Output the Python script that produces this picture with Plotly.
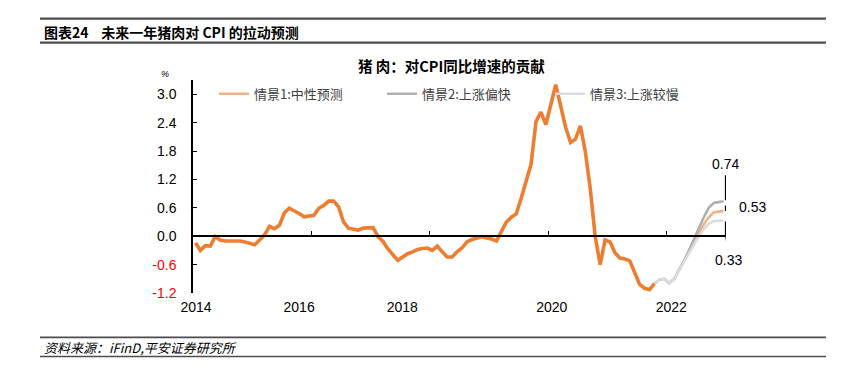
import plotly.graph_objects as go

# ---------------- data ----------------
actual = [
    -0.14, -0.30, -0.20, -0.21, -0.01, -0.08, -0.10, -0.10, -0.10, -0.10,
    -0.12, -0.15, -0.18, -0.08, 0.03, 0.21, 0.16, 0.23, 0.49, 0.59,
    0.54, 0.48, 0.41, 0.42, 0.44, 0.59, 0.65, 0.74, 0.74, 0.62,
    0.30, 0.17, 0.15, 0.13, 0.17, 0.18, 0.18, -0.01, -0.11, -0.27,
    -0.40, -0.51, -0.44, -0.37, -0.33, -0.28, -0.26, -0.25, -0.30, -0.21,
    -0.33, -0.44, -0.44, -0.33, -0.25, -0.12, -0.07, -0.03, -0.01, -0.04,
    -0.06, -0.10, 0.10, 0.30, 0.40, 0.47, 0.80, 1.15, 1.52, 2.42,
    2.62, 2.36, 2.78, 3.20, 2.75, 2.30, 1.98, 2.05, 2.33, 1.78,
    1.00, -0.01, -0.60, -0.08, -0.12, -0.35, -0.46, -0.48, -0.52, -0.78,
    -1.02, -1.10, -1.13, -1.00,
]
# forecasts start at the last actual month (index 93) and run to index 107
scen1 = [-1.00, -0.92, -0.90, -0.99, -0.90, -0.72, -0.52, -0.32, -0.12, 0.05, 0.25, 0.40, 0.50, 0.52, 0.53]
scen2 = [-1.00, -0.92, -0.90, -0.99, -0.90, -0.72, -0.52, -0.30, -0.06, 0.16, 0.40, 0.60, 0.70, 0.72, 0.74]
scen3 = [-1.00, -0.92, -0.90, -0.99, -0.90, -0.72, -0.52, -0.34, -0.15, 0.00, 0.15, 0.26, 0.32, 0.33, 0.33]
scen_names = ["情景1:中性预测", "情景2:上涨偏快", "情景3:上涨较慢"]
year_labels = ["2014", "2016", "2018", "2020", "2022"]
y_ticks = [-1.2, -0.6, 0.0, 0.6, 1.2, 1.8, 2.4, 3.0]

# ---------------- layout constants ----------------
W, H = 866, 383
PX0, PX1 = 193, 726
PY0, PY1 = 80.2, 292.7          # top / bottom of plot area in pixels
PW, PH = PX1 - PX0, PY1 - PY0
X_RANGE = [-0.5, 107.5]
Y_RANGE = [-1.2, 3.3]
label_pos = [0.1, 21.0, 41.9, 72.2, 96.4]
minor_tick_pos = [23.5, 47.5, 71.5, 95.5]

FONT = "Liberation Sans, Arial, Noto Sans CJK SC"
CJK = "Noto Sans CJK SC, Liberation Sans"

def px(x):
    return (x - PX0) / PW

def py(y):
    return (PY1 - y) / PH

x_act = list(range(len(actual)))
start = len(actual) - 1
x_fc = list(range(start, start + len(scen1)))

fig = go.Figure()
colors = ["#F4B183", "#B0B0B0", "#DCDCDC"]
for name, ser, col in zip(scen_names, [scen1, scen2, scen3], colors):
    fig.add_trace(go.Scatter(x=x_fc, y=ser, mode="lines", name=name,
                             line=dict(color=col, width=2.6)))
fig.add_trace(go.Scatter(x=x_act, y=actual, mode="lines", name="实际",
                         showlegend=False, line=dict(color="#ED7D31", width=3.6)))

# y tick labels (negatives in red)
ytext = []
for v in y_ticks:
    s = f"{v:.1f}"
    if v < 0:
        s = f'<span style="color:#FF0000">{s}</span>'
    ytext.append(s)

zero_pos = (0 - Y_RANGE[0]) / (Y_RANGE[1] - Y_RANGE[0])

fig.update_layout(
    width=W, height=H,
    margin=dict(l=PX0, r=W - PX1, t=PY0, b=H - PY1, autoexpand=False),
    paper_bgcolor="white", plot_bgcolor="white",
    font=dict(family=FONT, size=14, color="#000000"),
    showlegend=True,
    legend=dict(orientation="h", x=px(214), y=py(94), xanchor="left", yanchor="middle",
                font=dict(family=CJK, size=13, color="#404040"),
                bgcolor="rgba(0,0,0,0)", itemwidth=30,
                entrywidth=123, entrywidthmode="pixels", traceorder="normal"),
    xaxis=dict(range=X_RANGE, showgrid=False, zeroline=False, showline=False,
               automargin=False,
               ticks="", tickmode="array", tickvals=label_pos, ticktext=year_labels,
               tickfont=dict(size=14, color="#000000"), ticklabelstandoff=4),
    xaxis2=dict(range=X_RANGE, overlaying="x", anchor="free", position=zero_pos,
                side="bottom", showgrid=False, zeroline=False, showline=True,
                automargin=False,
                linecolor="#000000", linewidth=1.5, ticks="inside", ticklen=4,
                tickwidth=1, tickcolor="#000000", tickmode="array",
                tickvals=minor_tick_pos, showticklabels=False),
    yaxis=dict(range=Y_RANGE, showgrid=False, zeroline=False, showline=True,
               automargin=False,
               linecolor="#000000", linewidth=1.5, ticks="inside", ticklen=4,
               tickcolor="#000000", tickmode="array", tickvals=y_ticks, ticktext=ytext,
               tickfont=dict(size=14, color="#000000"), ticklabelstandoff=12),
)
# dummy invisible trace so the zero axis is rendered
fig.add_trace(go.Scatter(x=[X_RANGE[0], X_RANGE[1]], y=[None, None], xaxis="x2",
                         showlegend=False, hoverinfo="skip", mode="lines"))

# header / footer rules
for yy, wdt in [(19, 2.2), (43, 2.2), (337, 1.6), (356, 1.6)]:
    fig.add_shape(type="line", xref="paper", yref="paper", x0=px(40), x1=px(826),
                  y0=py(yy), y1=py(yy), line=dict(color="#4D4D4D", width=wdt))

fig.add_annotation(xref="paper", yref="paper", x=px(42), y=py(32), xanchor="left",
                   yanchor="middle", showarrow=False,
                   text="<b>图表24    未来一年猪肉对 CPI 的拉动预测</b>",
                   font=dict(family=CJK, size=14, color="#000000"))
fig.add_annotation(xref="paper", yref="paper", x=px(451), y=py(66), xanchor="center",
                   yanchor="middle", showarrow=False,
                   text="<b>猪 肉：对CPI同比增速的贡献</b>",
                   font=dict(family=CJK, size=14.5, color="#000000"))
fig.add_annotation(xref="paper", yref="paper", x=px(165), y=py(74), xanchor="center",
                   yanchor="middle", showarrow=False, text="<i>%</i>",
                   font=dict(family=FONT, size=9, color="#000000"))
fig.add_annotation(xref="paper", yref="paper", x=px(42), y=py(347), xanchor="left",
                   yanchor="middle", showarrow=False,
                   text="<i>资料来源：iFinD,平安证券研究所</i>",
                   font=dict(family=CJK, size=13, color="#000000"))

# end-value labels with leader lines
last = x_fc[-1]
v1, v2, v3 = scen1[-1], scen2[-1], scen3[-1]
fig.add_annotation(x=last, y=v2, xref="x", yref="y", showarrow=False, text=f"{v2:.2f}",
                   xshift=2, yshift=37, font=dict(size=14))
fig.add_shape(type="line", xref="x", yref="y", xsizemode="pixel", ysizemode="pixel",
              xanchor=last, yanchor=v2, x0=2, x1=2, y0=1, y1=26,
              line=dict(color="#000000", width=1.3))
fig.add_annotation(x=last, y=v1, xref="x", yref="y", showarrow=False, text=f"{v1:.2f}",
                   xanchor="left", xshift=13, yshift=4, font=dict(size=14))
fig.add_shape(type="path", xref="x", yref="y", xsizemode="pixel", ysizemode="pixel",
              xanchor=last, yanchor=v1, path="M 2 0 L 2 5 L 8 5",
              line=dict(color="#000000", width=1.3))
fig.add_annotation(x=last, y=v3, xref="x", yref="y", showarrow=False, text=f"{v3:.2f}",
                   xshift=5, yshift=-39, font=dict(size=14))
fig.add_shape(type="path", xref="x", yref="y", xsizemode="pixel", ysizemode="pixel",
              xanchor=last, yanchor=v3, path="M 2 -1 L 2 -14 L 4 -26",
              line=dict(color="#000000", width=1.3))

fig.write_html("out.html", config={"displayModeBar": False},
               post_script="document.body.style.margin='0';document.body.style.padding='0';")
